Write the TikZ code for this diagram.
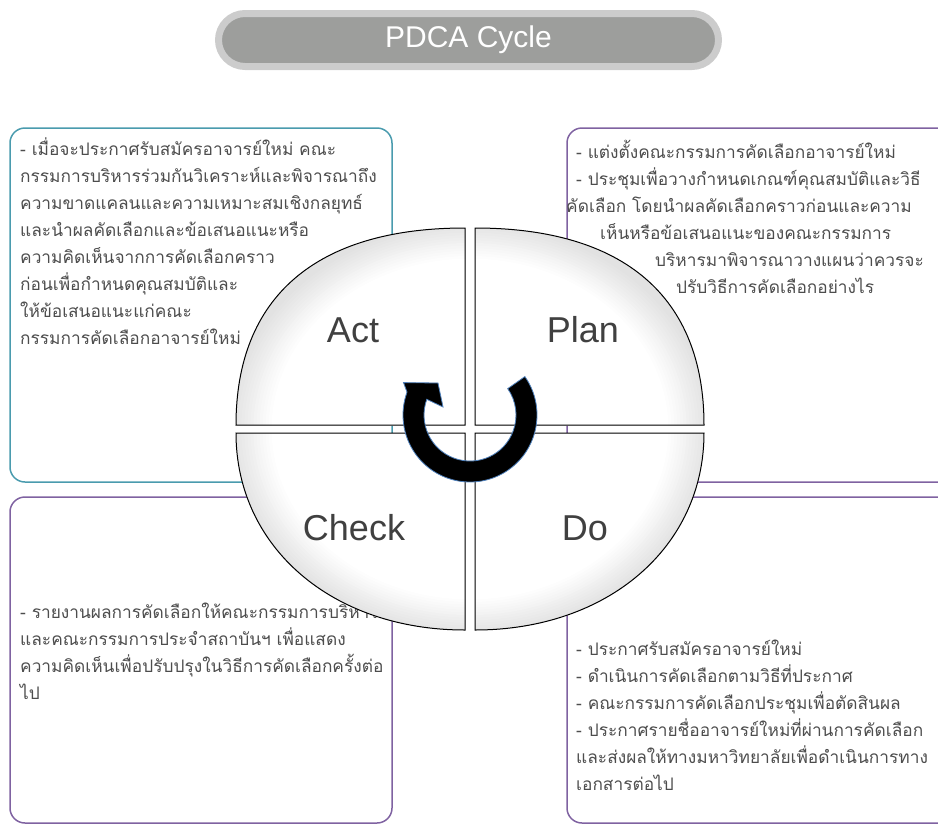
\documentclass[tikz,border=0pt]{standalone}
\usepackage{fontspec}
\setmainfont{Liberation Sans}
\newfontfamily\thaifont[Script=Thai]{Loma}
\definecolor{tealln}{HTML}{4A9BAE}
\definecolor{purpln}{HTML}{7F62A1}
\definecolor{txtgray}{HTML}{4D4D4D}
\definecolor{lblgray}{HTML}{404040}
\definecolor{ttlfill}{HTML}{9D9E9C}
\definecolor{ttlrim}{HTML}{CCCCCC}
\definecolor{arrblue}{HTML}{4F81BD}
\definecolor{rimgray}{HTML}{E2E2E2}
\tikzset{tbox/.style = {draw=tealln, line width=1.5, rounded corners=15},
         pbox/.style = {draw=purpln, line width=1.5, rounded corners=15},
         txt/.style  = {anchor=north west, align=left, inner sep=0pt, text=txtgray,
                        font=\thaifont\fontsize{17.3}{27}\selectfont},
         quad/.style = {draw=black, line width=1},
         lbl/.style  = {text=lblgray, inner sep=0pt, font=\fontsize{36}{40}\selectfont},
         ttl/.style  = {fill=ttlfill, draw=ttlrim, line width=7, rounded corners=26.5,
                        minimum width=500, minimum height=53, inner sep=0pt,
                        text=white, font=\fontsize{30}{34}\selectfont},
         circarr/.style = {fill=black, draw=arrblue, line width=0.8}}

\begin{document}
\begin{tikzpicture}[x=1pt, y=-1pt]
    \useasboundingbox (0,0) rectangle (938,825);
    \clip (0,0) rectangle (938,825);
    % boxes
    \draw[tbox] (10,128) rectangle (392,482);
    \draw[pbox] (567,128) rectangle (960,482);
    \draw[pbox] (10,497) rectangle (392,823);
    \draw[pbox] (567,497) rectangle (960,823);
    \node[txt] (actx) at (20,138) {- เมื่อจะประกาศรับสมัครอาจารย์ใหม่ คณะ\\
        กรรมการบริหารร่วมกันวิเคราะห์และพิจารณาถึง\\
        ความขาดแคลนและความเหมาะสมเชิงกลยุทธ์\\
        และนำผลคัดเลือกและข้อเสนอแนะหรือ\\
        ความคิดเห็นจากการคัดเลือกคราว\\
        ก่อนเพื่อกำหนดคุณสมบัติและ\\
        ให้ข้อเสนอแนะแก่คณะ\\
        กรรมการคัดเลือกอาจารย์ใหม่};
    \node[txt] (planx) at (566,140) {\hspace*{10pt}- แต่งตั้งคณะกรรมการคัดเลือกอาจารย์ใหม่\\
        \hspace*{10pt}- ประชุมเพื่อวางกำหนดเกณฑ์คุณสมบัติและวิธี\\
        คัดเลือก โดยนำผลคัดเลือกคราวก่อนและความ\\
        \hspace*{34pt}เห็นหรือข้อเสนอแนะของคณะกรรมการ\\
        \hspace*{89pt}บริหารมาพิจารณาวางแผนว่าควรจะ\\
        \hspace*{110pt}ปรับวิธีการคัดเลือกอย่างไร};
    \node[txt] (checkx) at (20,603) {- รายงานผลการคัดเลือกให้คณะกรรมการบริหาร\\
        และคณะกรรมการประจำสถาบันฯ เพื่อแสดง\\
        ความคิดเห็นเพื่อปรับปรุงในวิธีการคัดเลือกครั้งต่อ\\
        ไป};
    \node[txt] (dox) at (576,640) {- ประกาศรับสมัครอาจารย์ใหม่\\
        - ดำเนินการคัดเลือกตามวิธีที่ประกาศ\\
        - คณะกรรมการคัดเลือกประชุมเพื่อตัดสินผล\\
        - ประกาศรายชื่ออาจารย์ใหม่ที่ผ่านการคัดเลือก\\
        และส่งผลให้ทางมหาวิทยาลัยเพื่อดำเนินการทาง\\
        เอกสารต่อไป};
    % cycle quadrants
    \begin{scope}
        \clip (465,425) -- (236,425) .. controls (236,297) and (316,228) .. (465,228) -- cycle
              (475,425) -- (704,425) .. controls (704,297) and (624,228) .. (475,228) -- cycle
              (465,433) -- (236,433) .. controls (236,547) and (332,630) .. (465,630) -- cycle
              (475,433) -- (704,433) .. controls (704,547) and (608,630) .. (475,630) -- cycle;
        \fill[rimgray] (236,228) rectangle (704,630);
        \foreach \k in {0,...,14} {
            \pgfmathsetmacro\f{1.03-0.013*\k}
            \pgfmathsetmacro\p{100*\k/14}
            \fill[white!\p!rimgray] (470,429) ellipse [x radius=234*\f, y radius=201*\f];
        }
    \end{scope}
    \draw[quad] (465,425) -- (236,425) .. controls (236,297) and (316,228) .. (465,228) -- cycle;
    \draw[quad] (475,425) -- (704,425) .. controls (704,297) and (624,228) .. (475,228) -- cycle;
    \draw[quad] (465,433) -- (236,433) .. controls (236,547) and (332,630) .. (465,630) -- cycle;
    \draw[quad] (475,433) -- (704,433) .. controls (704,547) and (608,630) .. (475,630) -- cycle;
    \node[lbl] (act)   at (353,330) {Act};
    \node[lbl] (plan)  at (583,330) {Plan};
    \node[lbl] (check) at (354,528) {Check};
    \node[lbl] (do)    at (585,528) {Do};
    % arrow
    \coordinate (ctr) at (470,415);
    \filldraw[circarr] (ctr) ++(-35:67) arc[start angle=-35, end angle=200, radius=67]
        -- (403.5,382.6) -- (438,383) -- (443,407) -- (426.8,399.3)
        arc[start angle=200, end angle=-35, radius=46] -- cycle;
    \node[ttl] (title) at (468.5,40) {PDCA Cycle};
\end{tikzpicture}
\end{document}
